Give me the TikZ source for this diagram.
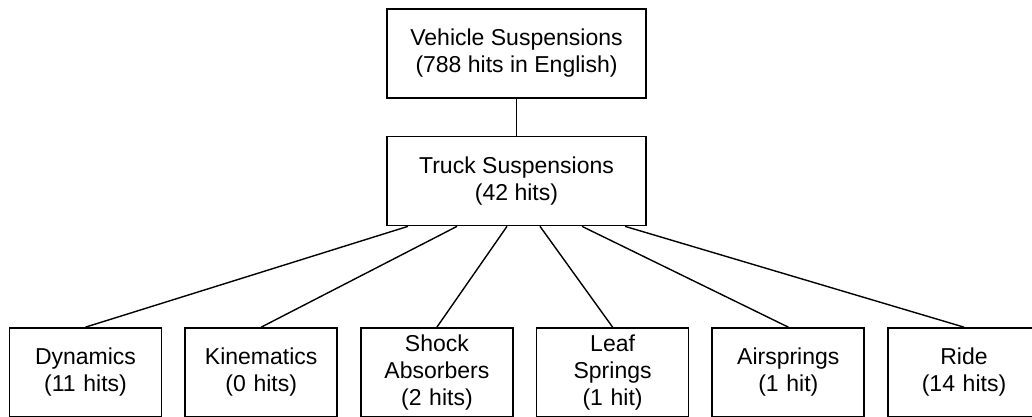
\documentclass[tikz,border=0pt]{standalone}
\usepackage{fontspec}
\setmainfont{Liberation Sans}
\usetikzlibrary{positioning}

\begin{document}
\begin{tikzpicture}[
    x=1pt,y=-1pt,
    box/.style={rectangle,draw=black,line width=1.7pt,inner sep=0pt,
      minimum width=259pt,minimum height=89pt,align=center,
      font=\fontsize{23}{27}\selectfont},
    topic/.style={box,minimum width=152pt,text width=150pt},
    link/.style={line width=1.4pt}
  ]
    \clip (0,0) rectangle (1032,417);
    \node[box] (vehicle) at (516.5,53.5) {Vehicle Suspensions\\(788 hits in English)};
    \node[box] (truck) at (516.5,181) {Truck Suspensions\\(42 hits)};

    \node[topic] (dyn) at (85.5,372.5) {Dynamics\\(11 hits)};
    \node[topic,right=22pt of dyn] (kin) {Kinematics\\(0 hits)};
    \node[topic,right=22pt of kin] (shock) {Shock\\Absorbers\\(2 hits)};
    \node[topic,right=22pt of shock] (leafspr) {Leaf\\Springs\\(1 hit)};
    \node[topic,right=22pt of leafspr] (air) {Airsprings\\(1 hit)};
    \node[topic,right=22pt of air] (ride) {Ride\\(14 hits)};

    \draw[link] (vehicle) -- (truck);
    \draw[link] ([xshift=-108.5pt]truck.south) -- (dyn.north);
    \draw[link] ([xshift=-59.5pt]truck.south) -- (kin.north);
    \draw[link] ([xshift=-9.5pt]truck.south) -- (shock.north);
    \draw[link] ([xshift=23.5pt]truck.south) -- (leafspr.north);
    \draw[link] ([xshift=65.5pt]truck.south) -- (air.north);
    \draw[link] ([xshift=108.5pt]truck.south) -- (ride.north);
  \end{tikzpicture}
\end{document}
